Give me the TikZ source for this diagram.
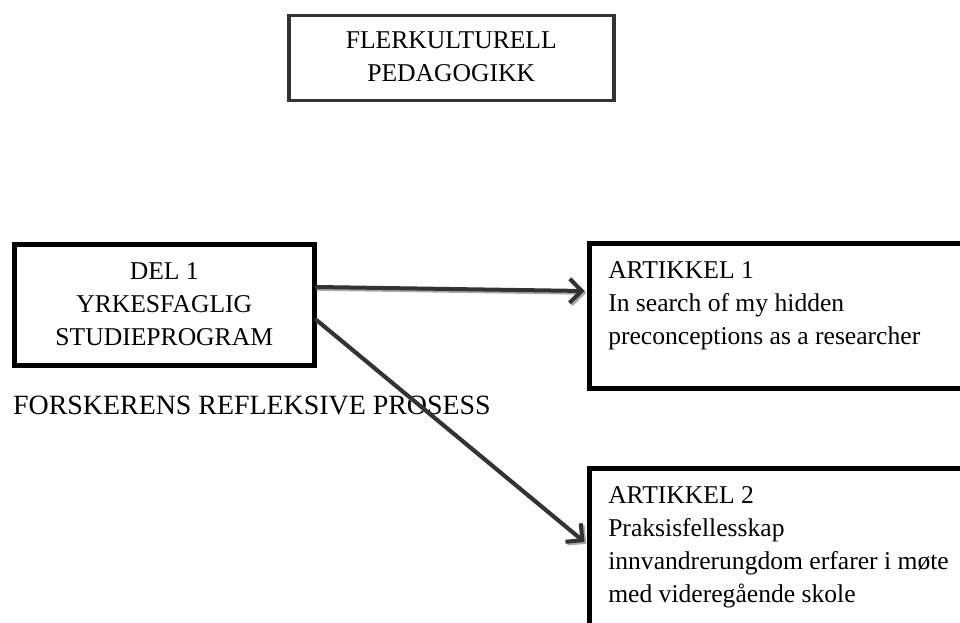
\documentclass[tikz,border=0pt]{standalone}
\usepackage{fontspec}
\setmainfont{Liberation Serif}
\usetikzlibrary{arrows.meta,calc}
\definecolor{arrowgray}{HTML}{333333}
\definecolor{shadowgray}{HTML}{A8A8A8}
% width, height, first-baseline offset, alignment commands, text
\newcommand{\btext}[5]{\parbox[c][#2][t]{#1}{\fontsize{25.6}{33}\selectfont#4\rule{0pt}{#3}#5\par}}
\tikzset{
  boxnode/.style={draw=black, line width=4.5pt, inner sep=0pt, anchor=north west},
  conn/.style={draw=arrowgray, line width=4pt, line cap=round, -{Straight Barb[length=12pt,width=24pt]}},
  connshadow/.style={draw=shadowgray, line width=4pt, line cap=round, -{Straight Barb[length=12pt,width=24pt]}, transform canvas={shift={(1.8,1.8)}}},
  lbl/.style={anchor=base west, inner sep=0pt, font=\fontsize{27.9}{33}\selectfont}
}
\begin{document}
\begin{tikzpicture}[x=1pt,y=-1pt]
\useasboundingbox (0,0) rectangle (960,623);
\clip (0,0) rectangle (960,623);
\node[boxnode, draw=arrowgray, line width=3.5pt] (top) at (287,14)
  {\btext{325pt}{85pt}{33pt}{\centering}{FLERKULTURELL\\PEDAGOGIKK}};
\node[boxnode] (del) at (12,242)
  {\btext{300pt}{121pt}{35pt}{\centering}{DEL 1\\YRKESFAGLIG\\STUDIEPROGRAM}};
\node[boxnode] (b1) at (587,241)
  {\btext{390pt}{145pt}{35pt}{\leftskip=19pt}{ARTIKKEL 1\\In search of my hidden\\preconceptions as a researcher}};
\node[boxnode] (b2) at (587,466)
  {\btext{390pt}{180pt}{35pt}{\leftskip=19pt}{ARTIKKEL 2\\Praksisfellesskap\\innvandrerungdom erfarer i møte\\med videregående skole}};
\node[lbl] (proc) at (13,414) {FORSKERENS REFLEKSIVE PROSESS};
\coordinate (a1s) at ($(del.north east)+(0,45)$);
\coordinate (a1e) at ($(b1.north west)+(-2.5,50)$);
\coordinate (a2s) at ($(del.north east)+(0,78)$);
\coordinate (a2e) at ($(b2.north west)+(-2.5,76)$);
\draw[connshadow] (a1s) -- (a1e);
\draw[connshadow] (a2s) -- (a2e);
\draw[conn] (a1s) -- (a1e);
\draw[conn] (a2s) -- (a2e);
\end{tikzpicture}
\end{document}
